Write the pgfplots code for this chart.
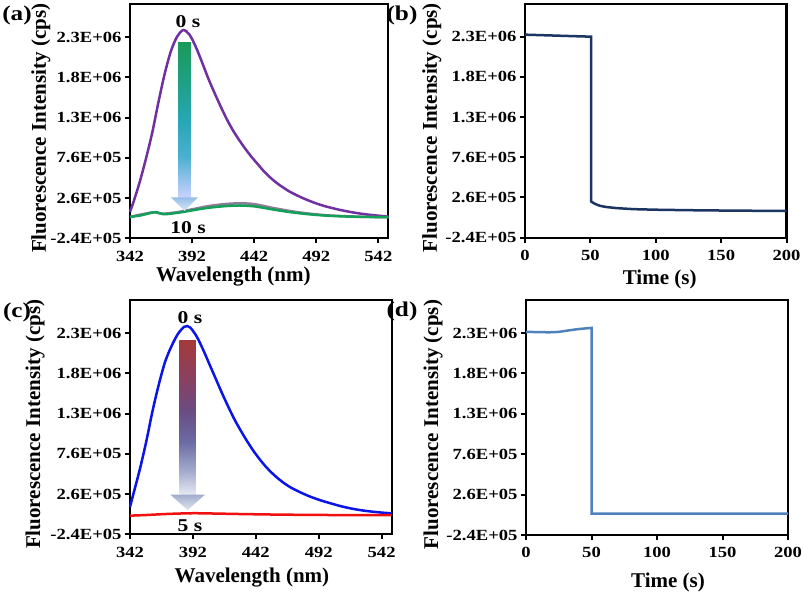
\documentclass[border=0pt]{standalone}
\usepackage{fontspec}
\setmainfont{Liberation Serif}
\newfontfamily\tickfont{Liberation Serif}[FakeStretch=1.2]
\usepackage{pgfplots}
\pgfplotsset{compat=1.18}
\definecolor{cpurple}{HTML}{7030A0}
\definecolor{cgreen}{HTML}{12A05A}
\definecolor{cgray}{HTML}{8E7C96}
\definecolor{cnavy}{HTML}{1C3462}
\definecolor{cblue}{HTML}{0A14E6}
\definecolor{cred}{HTML}{F01010}
\definecolor{clblue}{HTML}{4F81BD}
\pgfdeclareverticalshading{greenarrow}{100bp}{%
  color(0bp)=(white!78!cyan!40!blue!30); color(25bp)=(white!78!cyan!40!blue!30);
  color(38bp)=({rgb,255:red,76;green,176;blue,208}); color(50bp)=({rgb,255:red,39;green,166;blue,180});
  color(62bp)=({rgb,255:red,31;green,160;blue,132}); color(75bp)=({rgb,255:red,26;green,154;blue,88});
  color(100bp)=({rgb,255:red,26;green,154;blue,88})}
\pgfdeclareverticalshading{redarrow}{100bp}{%
  color(0bp)=({rgb,255:red,230;green,233;blue,242}); color(25bp)=({rgb,255:red,230;green,233;blue,242});
  color(32bp)=({rgb,255:red,168;green,176;blue,208}); color(42bp)=({rgb,255:red,108;green,108;blue,164});
  color(52bp)=({rgb,255:red,106;green,76;blue,132}); color(63bp)=({rgb,255:red,138;green,64;blue,96});
  color(75bp)=({rgb,255:red,163;green,58;blue,58}); color(100bp)=({rgb,255:red,163;green,58;blue,58})}
\pgfplotsset{
  panel/.style={
    scale only axis,
    clip=false,
    axis line style={line width=2.2pt},
    tick style={line width=2pt, black},
    tick align=outside,
    tick pos=left,
    major tick length=5pt,
    ymin=-2.4e5, ymax=2.67e6,
    ytick={-2.4e5,2.6e5,7.6e5,1.26e6,1.76e6,2.26e6},
    yticklabels={-2.4E+05,2.6E+05,7.6E+05,1.3E+06,1.8E+06,2.3E+06},
    scaled y ticks=false, scaled x ticks=false,
    tick label style={font=\tickfont\bfseries\fontsize{15.5}{17}\selectfont},
    xticklabel style={yshift=-4pt},
    label style={font=\bfseries\fontsize{21}{24}\selectfont},
    ylabel={Fluorescence Intensity (cps)},
  },
  spec/.style={xmin=342, xmax=550, xtick={342,392,442,492,542},
    xticklabels={342,392,442,492,542}, xlabel={Wavelength (nm)}},
  time/.style={xmin=0, xmax=200, xtick={0,50,100,150,200},
    xticklabels={0,50,100,150,200}, xlabel={Time (s)}},
}
\begin{document}
\begin{tikzpicture}
\path[use as bounding box] (0,0) rectangle (804pt,-597pt);
% (a)
\begin{axis}[panel, spec, at={(130pt,-238.3pt)}, anchor=south west,
  width=258.3pt, height=234pt,
  xlabel style={at={(axis description cs:0.40,-0.165)}, anchor=center},
  ylabel style={at={(axis description cs:-0.345,0.47)}, anchor=center}]
\addplot[cpurple, line width=2.5pt, smooth] coordinates {
(342,9.0e4)(345,2.2e5)(350,4.7e5)(355,7.6e5)(360,1.08e6)(365,1.46e6)
(370,1.81e6)(375,2.09e6)(380,2.27e6)(385,2.35e6)(390,2.29e6)(395,2.14e6)
(400,1.95e6)(405,1.75e6)(410,1.57e6)(415,1.40e6)(420,1.24e6)(425,1.10e6)
(430,9.8e5)(435,8.7e5)(440,7.7e5)(445,6.8e5)(450,5.9e5)(455,5.15e5)
(460,4.5e5)(465,3.95e5)(470,3.45e5)(475,3.05e5)(480,2.68e5)(485,2.35e5)
(490,2.05e5)(495,1.78e5)(500,1.55e5)(510,1.17e5)(520,8.6e4)(530,6.2e4)
(540,4.4e4)(550,3.1e4)};
\addplot[cgray, line width=2.5pt, smooth] coordinates {
(342,2.6e4)(360,8.2e4)(368,6.5e4)(380,8.5e4)(392,1.2e5)(405,1.6e5)
(418,1.85e5)(430,1.95e5)(442,1.85e5)(458,1.35e5)(477,8.5e4)(499,4.8e4)
(525,2.9e4)(550,2.3e4)};
\addplot[cgreen, line width=2.5pt, smooth] coordinates {
(342,2.6e4)(350,4.3e4)(356,6.5e4)(360,8.0e4)(363.5,8.5e4)(366,7.2e4)
(368.8,6.0e4)(373,6.3e4)(378.2,7.3e4)(385,8.8e4)(391.7,1.06e5)(398,1.23e5)
(405.1,1.39e5)(412,1.51e5)(418.5,1.6e5)(425,1.66e5)(430.6,1.68e5)
(437,1.64e5)(442.7,1.56e5)(450,1.38e5)(458.8,1.14e5)(468,9.2e4)
(477.5,7.3e4)(488,5.6e4)(499,4.3e4)(512,3.3e4)(525.9,2.7e4)(540,2.4e4)
(550,2.2e4)};
\shade[shading=greenarrow]
  (axis cs:380.7,2.2e6) -- (axis cs:391.1,2.2e6) -- (axis cs:391.1,2.7e5)
  -- (axis cs:380.7,2.7e5) -- cycle;
\shade[top color={rgb,255:red,150;green,190;blue,232}, bottom color={rgb,255:red,214;green,232;blue,248}]
  (axis cs:375,2.7e5) -- (axis cs:396.8,2.7e5) -- (axis cs:385.9,1.0e5) -- cycle;
\node[font=\tickfont\bfseries\fontsize{18}{20}\selectfont] at (axis cs:388.7,2.455e6) {0 s};
\node[font=\tickfont\bfseries\fontsize{18}{20}\selectfont] at (axis cs:388.7,-1.1e5) {10 s};
\end{axis}
% (b)
\begin{axis}[panel, time, at={(525pt,-237.7pt)}, anchor=south west,
  width=261.5pt, height=234pt,
  xlabel style={at={(axis description cs:0.515,-0.178)}, anchor=center},
  ylabel style={at={(axis description cs:-0.356,0.47)}, anchor=center}]
\addplot[cnavy, line width=2.5pt] coordinates {
(0,2.285e6)(10,2.28e6)(20,2.275e6)(30,2.27e6)(40,2.265e6)(50.5,2.26e6)
(50.6,2.1e5)(53,1.85e5)(57,1.58e5)(62,1.42e5)(70,1.28e5)(83,1.15e5)
(100,1.08e5)(125,1.02e5)(150,9.8e4)(175,9.5e4)(200,9.3e4)};
\end{axis}
% (c)
\begin{axis}[panel, spec, at={(130pt,-534.3pt)}, anchor=south west,
  width=261.7pt, height=234pt,
  xlabel style={at={(axis description cs:0.466,-0.185)}, anchor=center},
  ylabel style={at={(axis description cs:-0.363,0.47)}, anchor=center}]
\addplot[cblue, line width=2.5pt, smooth] coordinates {
(342,1.0e5)(345,2.8e5)(350,5.8e5)(355,9.2e5)(360,1.3e6)(365,1.63e6)
(370,1.91e6)(375,2.10e6)(380,2.25e6)(385,2.34e6)(387.5,2.35e6)(390,2.33e6)
(395,2.22e6)(400,2.06e6)(405,1.88e6)(410,1.70e6)(415,1.52e6)(420,1.35e6)
(425,1.19e6)(430,1.05e6)(435,9.2e5)(440,8.0e5)(445,6.95e5)(450,6.0e5)
(455,5.2e5)(460,4.5e5)(465,3.9e5)(470,3.4e5)(475,3.0e5)(480,2.63e5)
(485,2.3e5)(490,2.01e5)(495,1.75e5)(500,1.52e5)(510,1.08e5)(520,7.4e4)
(530,5.0e4)(540,3.3e4)(550,2.0e4)};
\addplot[cred, line width=2.5pt, smooth] coordinates {
(342,-8e3)(355,0)(370,1.2e4)(385,2.0e4)(395,2.2e4)(410,1.8e4)(430,1.2e4)
(460,5e3)(500,0)(550,-3e3)};
\shade[shading=redarrow]
  (axis cs:381.2,2.165e6) -- (axis cs:394.4,2.165e6) -- (axis cs:394.4,2.55e5)
  -- (axis cs:381.2,2.55e5) -- cycle;
\shade[top color={rgb,255:red,160;green,172;blue,204}, bottom color={rgb,255:red,226;green,230;blue,240}]
  (axis cs:373.9,2.55e5) -- (axis cs:401.7,2.55e5) -- (axis cs:387.8,6.1e4) -- cycle;
\node[font=\tickfont\bfseries\fontsize{18}{20}\selectfont] at (axis cs:389.7,2.45e6) {0 s};
\node[font=\tickfont\bfseries\fontsize{18}{20}\selectfont] at (axis cs:389.7,-1.3e5) {5 s};
\end{axis}
% (d)
\begin{axis}[panel, time, at={(526pt,-535pt)}, anchor=south west,
  width=262pt, height=235pt,
  xlabel style={at={(axis description cs:0.542,-0.204)}, anchor=center},
  ylabel style={at={(axis description cs:-0.355,0.47)}, anchor=center}]
\addplot[clblue, line width=2.5pt] coordinates {
(0,2.276e6)(10,2.272e6)(18,2.27e6)(25,2.275e6)(31,2.29e6)(40,2.31e6)
(50,2.325e6)(50.1,2.6e4)(200,2.6e4)};
\end{axis}
\node[font=\tickfont\bfseries\fontsize{21}{24}\selectfont] at (17pt,-15pt) {(a)};
\node[font=\tickfont\bfseries\fontsize{21}{24}\selectfont] at (402pt,-15pt) {(b)};
\node[font=\tickfont\bfseries\fontsize{21}{24}\selectfont] at (17pt,-312pt) {(c)};
\node[font=\tickfont\bfseries\fontsize{21}{24}\selectfont] at (402pt,-311pt) {(d)};
\end{tikzpicture}
\end{document}
